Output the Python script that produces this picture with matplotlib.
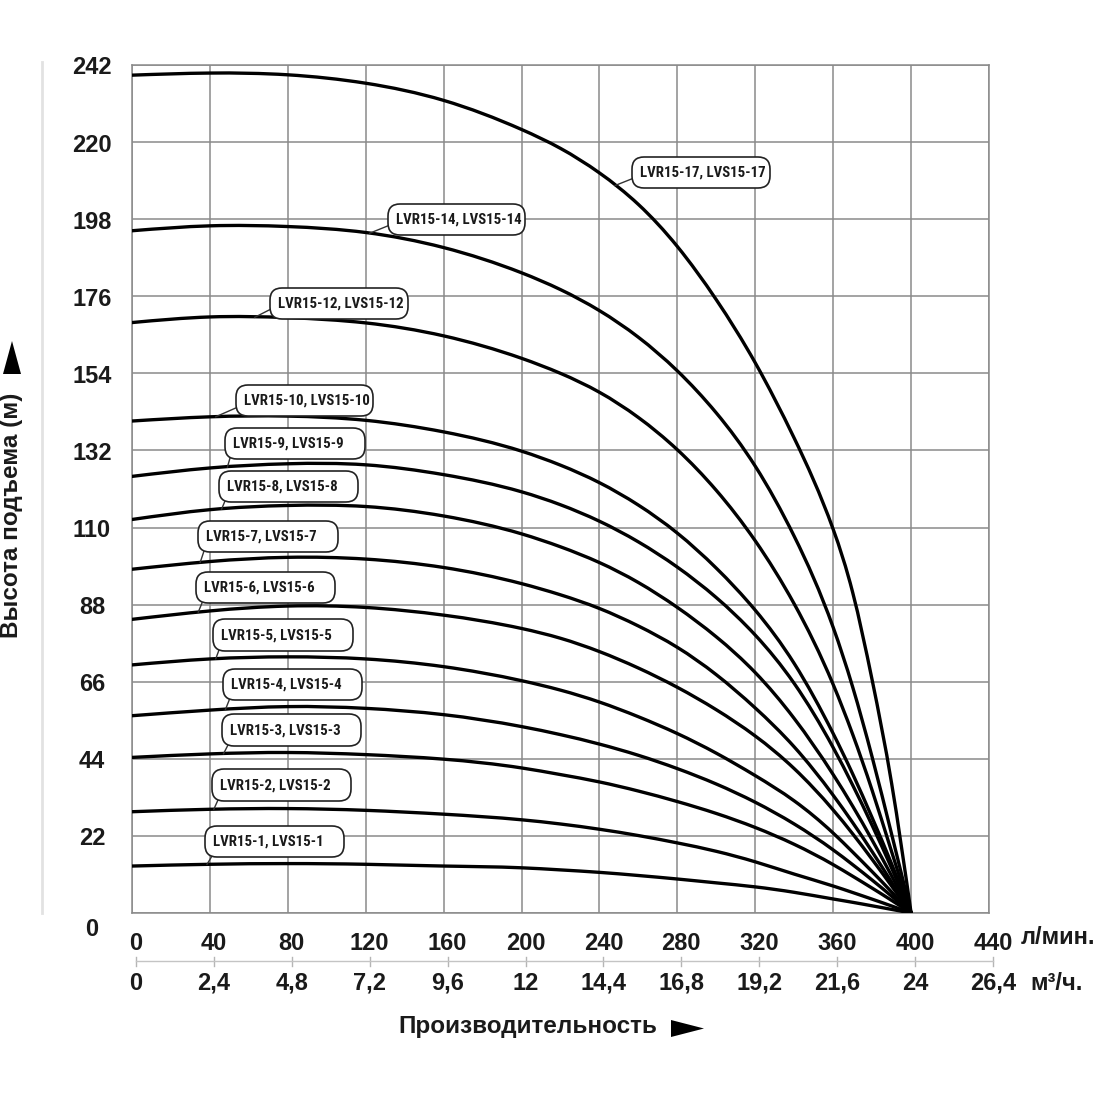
import os
import numpy as np
import matplotlib
matplotlib.use('Agg')
import matplotlib.pyplot as plt
from matplotlib.path import Path
from matplotlib.patches import PathPatch, FancyBboxPatch, Polygon
from matplotlib.lines import Line2D
from matplotlib import transforms, font_manager
from matplotlib.font_manager import FontProperties

# ---------------- data ----------------
flow_lpm = [0, 40, 80, 120, 160, 200, 220, 240, 260, 280, 300, 320, 340, 360, 370, 380, 390, 400]

head_17 = [239.1, 239.7, 239.2, 236.8, 231.9, 223.6, 218.2, 211.2, 202.2, 190.2, 175.0, 157.0, 135.5, 109.5, 91.5, 66.5, 37.0, 0]
head_14 = [194.7, 196.1, 195.9, 194.2, 189.9, 182.7, 177.9, 171.9, 164.3, 154.7, 142.7, 127.5, 107.5, 81.5, 64.5, 44.5, 22.5, 0]
head_12 = [168.5, 170.1, 169.9, 168.4, 164.7, 158.3, 154.0, 148.6, 141.4, 132.2, 120.6, 106.2, 88.2, 65.2, 51.0, 35.0, 17.5, 0]
head_10 = [140.4, 141.6, 141.8, 140.6, 137.3, 131.8, 127.8, 122.8, 116.4, 108.4, 98.4, 86.4, 71.2, 51.2, 39.7, 27.2, 14.0, 0]
head_9 = [124.6, 127.0, 128.2, 127.9, 125.1, 120.2, 116.5, 111.8, 105.9, 98.7, 90.0, 79.3, 65.5, 47.2, 36.5, 25.0, 12.8, 0]
head_8 = [112.3, 115.1, 116.3, 116.0, 113.3, 108.2, 104.5, 100.0, 94.3, 87.2, 78.8, 68.6, 55.5, 39.5, 30.5, 20.8, 10.6, 0]
head_7 = [98.1, 100.3, 101.5, 101.0, 98.6, 94.0, 90.8, 86.9, 81.9, 75.8, 68.0, 58.5, 47.4, 33.6, 25.8, 17.5, 8.8, 0]
head_6 = [83.8, 86.2, 87.6, 87.2, 85.0, 81.2, 78.4, 74.6, 69.9, 64.4, 58.0, 50.5, 41.2, 29.4, 22.6, 15.3, 7.7, 0]
head_5 = [70.8, 72.5, 73.1, 72.5, 70.3, 66.3, 63.6, 60.2, 56.0, 51.2, 45.6, 39.2, 32.0, 22.8, 17.4, 11.8, 6.0, 0]
head_4 = [56.3, 57.9, 58.9, 58.4, 56.6, 53.2, 50.9, 48.2, 45.0, 41.2, 36.8, 31.6, 25.4, 18.0, 13.8, 9.4, 4.8, 0]
head_3 = [44.4, 45.4, 45.8, 45.2, 43.9, 41.4, 39.5, 37.4, 34.8, 31.8, 28.4, 24.4, 19.6, 13.8, 10.5, 7.1, 3.6, 0]
head_2 = [28.9, 29.6, 29.8, 29.3, 28.2, 26.6, 25.4, 23.9, 22.1, 20.0, 17.6, 14.6, 11.1, 7.7, 5.85, 3.95, 2.0, 0]
head_1 = [13.4, 13.9, 14.1, 13.9, 13.4, 12.9, 12.3, 11.6, 10.7, 9.7, 8.6, 7.45, 5.9, 4.0, 3.05, 2.05, 1.03, 0]

model_names = ['LVR15-17, LVS15-17', 'LVR15-14, LVS15-14', 'LVR15-12, LVS15-12',
               'LVR15-10, LVS15-10', 'LVR15-9, LVS15-9', 'LVR15-8, LVS15-8',
               'LVR15-7, LVS15-7', 'LVR15-6, LVS15-6', 'LVR15-5, LVS15-5',
               'LVR15-4, LVS15-4', 'LVR15-3, LVS15-3', 'LVR15-2, LVS15-2',
               'LVR15-1, LVS15-1']
model_heads = [head_17, head_14, head_12, head_10, head_9, head_8, head_7,
               head_6, head_5, head_4, head_3, head_2, head_1]

x_ticks_lpm = [0, 40, 80, 120, 160, 200, 240, 280, 320, 360, 400, 440]
x_labels_m3h = ['0', '2,4', '4,8', '7,2', '9,6', '12', '14,4', '16,8', '19,2', '21,6', '24', '26,4']
y_ticks = [0, 22, 44, 66, 88, 110, 132, 154, 176, 198, 220, 242]

unit_lpm = 'л/мин.'
unit_m3h = 'м³/ч.'
x_title = 'Производительность'
y_title = 'Высота подъема (м)'

# ---------------- layout (image pixels) ----------------
W = H = 1100
label_anchor_q = [248, 122, 63, 43, 49, 46, 35, 34, 43, 48, 47, 42, 38.5]
label_boxes = [(632, 157, 770, 188), (388, 204, 525, 235), (270, 288, 408, 319),
               (236, 385, 373, 416), (225, 428, 365, 459), (219, 471, 358, 502),
               (198, 521, 338, 552), (196, 572, 335, 603), (213, 619, 353, 651),
               (223, 669, 362, 700), (222, 714, 361, 746), (212, 769, 351, 801),
               (205, 826, 344, 857)]
leader_ends = [(634, 178), (390, 225), (273, 308), (238, 407), (230, 458), (225, 501),
               (204, 551), (202, 603), (219, 650), (230, 698), (228, 745), (218, 800),
               (212, 856)]


def fx(px):
    return px / W


def fy(py):
    return 1 - py / H


def find_narrow_font():
    cands = [('Liberation Sans Narrow', 'normal', 'narrow'),
             ('Arial Narrow', 'normal', 'narrow'),
             ('Roboto Condensed', 'normal', 'condensed'),
             ('Noto Sans Condensed', 'normal', 'condensed'),
             ('Open Sans Condensed', 'normal', 'condensed'),
             ('Noto Sans', 'condensed', 'condensed'),
             ('Open Sans', 'condensed', 'condensed'),
             ('DejaVu Sans Condensed', 'normal', 'condensed')]
    for fam, stretch, key in cands:
        try:
            f = font_manager.findfont(FontProperties(family=fam, stretch=stretch, weight='bold'),
                                      fallback_to_default=False)
        except Exception:
            continue
        if key in os.path.basename(f).lower():
            return fam, stretch
    return 'Liberation Sans', 'normal'


main_font = ['Liberation Sans', 'DejaVu Sans']
box_family, box_stretch = find_narrow_font()

plt.rcParams['font.family'] = main_font

fig = plt.figure(figsize=(11, 11), dpi=100)
fig.patch.set_facecolor('white')
ax = fig.add_axes([fx(132), fy(913), fx(989) - fx(132), fy(65) - fy(913)])
ax.set_xlim(0, 440)
ax.set_ylim(0, 242)

grid_col = '#8a8a8a'
for v in x_ticks_lpm:
    ax.axvline(v, color=grid_col, lw=1.1, zorder=1)
for v in y_ticks:
    ax.axhline(v, color=grid_col, lw=1.1, zorder=1)
for s in ax.spines.values():
    s.set_color(grid_col)
    s.set_linewidth(1.1)
ax.set_xticks([])
ax.set_yticks([])


# ---------------- curves: natural cubic spline rendered as Bezier path ----------------
def spline_path(xs, ys):
    xs = np.asarray(xs, float)
    ys = np.asarray(ys, float)
    n = len(xs)
    h = np.diff(xs)
    d = np.diff(ys) / h
    A = np.zeros((n, n))
    r = np.zeros(n)
    A[0, 0] = 1
    A[-1, -1] = 1
    for i in range(1, n - 1):
        A[i, i - 1] = h[i - 1]
        A[i, i] = 2 * (h[i - 1] + h[i])
        A[i, i + 1] = h[i]
        r[i] = 6 * (d[i] - d[i - 1])
    M = np.linalg.solve(A, r)
    verts = [(xs[0], ys[0])]
    codes = [Path.MOVETO]
    for i in range(n - 1):
        s0 = d[i] - h[i] * (2 * M[i] + M[i + 1]) / 6
        s1 = d[i] + h[i] * (M[i] + 2 * M[i + 1]) / 6
        verts += [(xs[i] + h[i] / 3, ys[i] + s0 * h[i] / 3),
                  (xs[i + 1] - h[i] / 3, ys[i + 1] - s1 * h[i] / 3),
                  (xs[i + 1], ys[i + 1])]
        codes += [Path.CURVE4] * 3
    return Path(verts, codes)


for heads in model_heads:
    ax.add_patch(PathPatch(spline_path(flow_lpm, heads), fill=False, edgecolor='black',
                           lw=2.4, capstyle='round', joinstyle='round', zorder=3))

# ---------------- tick labels ----------------
txt_col = '#1a1a1a'
tick_kw = dict(fontsize=17, fontweight='bold', color=txt_col, family=main_font)
ytrans = transforms.offset_copy(
    transforms.blended_transform_factory(fig.transFigure, ax.transData),
    fig=fig, x=0, y=-3, units='dots')
for v in y_ticks[1:]:
    fig.text(fx(92), v, str(v), transform=ytrans, ha='center', va='center', **tick_kw)
fig.text(fx(92), fy(930), str(y_ticks[0]), ha='center', va='center', **tick_kw)

xtrans = transforms.offset_copy(
    transforms.blended_transform_factory(ax.transData, fig.transFigure),
    fig=fig, x=4, y=0, units='dots')
for v, lab in zip(x_ticks_lpm, x_labels_m3h):
    fig.text(v, fy(943), str(v), transform=xtrans, ha='center', va='center', **tick_kw)
    fig.text(v, fy(983), lab, transform=xtrans, ha='center', va='center', **tick_kw)
    fig.add_artist(Line2D([v, v], [fy(957), fy(966)], transform=xtrans,
                          color='#b5b5b5', lw=1.0))
fig.add_artist(Line2D([x_ticks_lpm[0], x_ticks_lpm[-1]], [fy(961), fy(961)],
                      transform=xtrans, color='#c4c4c4', lw=1.0))

fig.text(fx(1021), fy(937), unit_lpm, ha='left', va='center', **tick_kw)
fig.text(fx(1030), fy(983), unit_m3h, ha='left', va='center', **tick_kw)

# axis titles with solid triangle pointers
fig.text(fx(528), fy(1027), x_title, ha='center', va='center',
         fontsize=17.5, fontweight='bold', color=txt_col, family=main_font)
fig.add_artist(Polygon([(fx(671), fy(1020)), (fx(671), fy(1037)), (fx(704), fy(1028.5))],
                       closed=True, facecolor='black', edgecolor='none',
                       transform=fig.transFigure))
fig.text(fx(12), fy(515), y_title, ha='center', va='center', rotation=90,
         fontsize=17.5, fontweight='bold', color=txt_col, family=main_font)
fig.add_artist(Polygon([(fx(3), fy(374)), (fx(21), fy(374)), (fx(12), fy(341))],
                       closed=True, facecolor='black', edgecolor='none',
                       transform=fig.transFigure))

# faint vertical rule at far left
fig.add_artist(Line2D([fx(42), fx(42)], [fy(62), fy(913)], color='#e2e2e2', lw=2.0))

# ---------------- curve labels ----------------
fig.canvas.draw()
renderer = fig.canvas.get_renderer()
probe = fig.text(0, 0, 'LVR15-14, LVS15-14',
                 fontproperties=FontProperties(family=box_family, stretch=box_stretch,
                                               weight='bold', size=10))
pw = probe.get_window_extent(renderer=renderer).width
probe.remove()
box_size = min(12.5, 10 * 127.0 / pw)
box_fp = FontProperties(family=box_family, stretch=box_stretch, weight='bold', size=box_size)

to_fig = fig.transFigure.inverted()
for name, heads, q, box, lend in zip(model_names, model_heads, label_anchor_q,
                                    label_boxes, leader_ends):
    hq = np.interp(q, flow_lpm, heads)
    ax_pt = to_fig.transform(ax.transData.transform((q, hq)))
    fig.add_artist(Line2D([ax_pt[0], fx(lend[0])], [ax_pt[1], fy(lend[1])],
                          color='#333333', lw=1.0, zorder=4))
    l, t, r, b = box
    patch = FancyBboxPatch((fx(l), fy(b)), fx(r) - fx(l), fy(t) - fy(b),
                           boxstyle='round,pad=0,rounding_size=%f' % fx(12),
                           transform=fig.transFigure, facecolor='white',
                           edgecolor='#222222', lw=1.2, zorder=5)
    fig.add_artist(patch)
    fig.text(fx(l + 8), fy((t + b) / 2 + 0.5), name, ha='left', va='center',
             fontproperties=box_fp, color=txt_col, zorder=6)

fig.savefig('out.png', dpi=100, facecolor='white')
